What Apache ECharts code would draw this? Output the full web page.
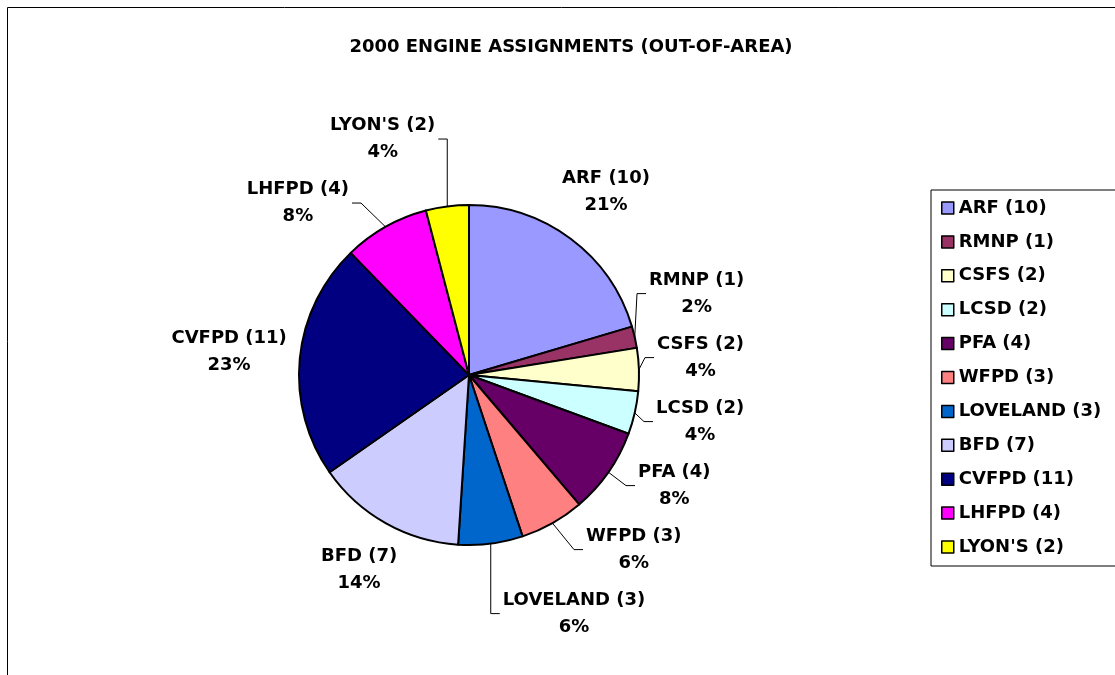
<!DOCTYPE html>
<html>
<head>
<meta charset="utf-8">
<title>2000 Engine Assignments</title>
<script src="https://cdn.jsdelivr.net/npm/echarts@6/dist/echarts.min.js"></script>
<style>
  html, body { margin: 0; padding: 0; background: #fff; }
  #chart { width: 1115px; height: 675px; }
</style>
</head>
<body>
<div id="chart"></div>
<script>
  // agencies (legend names) and engine counts
  var agencies = ['ARF (10)', 'RMNP (1)', 'CSFS (2)', 'LCSD (2)', 'PFA (4)', 'WFPD (3)',
    'LOVELAND (3)', 'BFD (7)', 'CVFPD (11)', 'LHFPD (4)', "LYON'S (2)"]
  var engines = [10, 1, 2, 2, 4, 3, 3, 7, 11, 4, 2]
  // percent text as printed on the original chart
  var pctLabels = ['21%', '2%', '4%', '4%', '8%', '6%', '6%', '14%', '23%', '8%', '4%']
  var sliceColors = ['#9999FF', '#993366', '#FFFFCC', '#CCFFFF', '#660066', '#FF8080',
    '#0066CC', '#CCCCFF', '#000080', '#FF00FF', '#FFFF00']

  var font = 'DejaVu Sans'
  var fontSize = 18
  var C = [469, 375]  // pie centre
  var R = 170         // pie radius
  var GAP_NEAR = 12   // clearance for labels left on their own slice
  var GAP = 18        // clearance for labels moved aside (with leader line)
  var LINE_H = 27
  var MIN_SEP = 2 * LINE_H + 10

  // --- excel-like "best fit" label placement, worked out from the values ---
  var total = engines.reduce(function (a, b) { return a + b }, 0)
  var ctx = document.createElement('canvas').getContext('2d')
  ctx.font = 'bold ' + fontSize + 'px "' + font + '"'

  function boxDist (x, y, w, h) {
    var nx = Math.max(x - w / 2, Math.min(C[0], x + w / 2))
    var ny = Math.max(y - h / 2, Math.min(C[1], y + h / 2))
    return Math.hypot(nx - C[0], ny - C[1])
  }

  var boxes = []
  var cum = 0
  engines.forEach(function (v, i) {
    var theta = (cum + v / 2) / total * 2 * Math.PI
    cum += v
    var dir = [Math.sin(theta), -Math.cos(theta)]
    var w = Math.max(ctx.measureText(agencies[i]).width, ctx.measureText(pctLabels[i]).width)
    var h = 2 * LINE_H
    var d = R
    var x, y
    do {
      d += 1
      x = C[0] + dir[0] * d
      y = C[1] + dir[1] * d
    } while (boxDist(x, y, w, h) < R + GAP_NEAR)
    boxes.push({ dir: dir, w: w, h: h, x: x, y: y, y0: y, side: dir[0] >= 0 ? 1 : -1,
      rim: [C[0] + dir[0] * R, C[1] + dir[1] * R] })
  })

  function overlapX (a, b) {
    return Math.abs(a.x - b.x) < (a.w + b.w) / 2 + 4
  }

  // spread labels vertically on each side: push down, push up, take the average
  ;[1, -1].forEach(function (side) {
    var list = boxes.filter(function (b) { return b.side === side })
      .sort(function (a, b) { return a.y - b.y })
    var n = list.length
    var down = list.map(function (b) { return b.y })
    var up = down.slice()
    var j, k
    for (j = 1; j < n; j++) {
      for (k = 0; k < j; k++) {
        if (overlapX(list[j], list[k]) && down[j] - down[k] < MIN_SEP) down[j] = down[k] + MIN_SEP
      }
    }
    for (j = n - 2; j >= 0; j--) {
      for (k = n - 1; k > j; k--) {
        if (overlapX(list[j], list[k]) && up[k] - up[j] < MIN_SEP) up[j] = up[k] - MIN_SEP
      }
    }
    list.forEach(function (b, idx) { b.y = (down[idx] + up[idx]) / 2 })
  })

  // moved labels sit beside the pie and get a leader line
  boxes.forEach(function (b) {
    b.moved = Math.abs(b.y - b.y0) > 4
    if (b.moved) {
      var x = C[0] + b.side * b.w / 2
      while (boxDist(x, b.y, b.w, b.h) < R + GAP) x += b.side
      var lim = b.rim[0] + b.side * (12 + b.w / 2)
      b.x = b.side > 0 ? Math.max(x, lim) : Math.min(x, lim)
      var edge = b.x - b.side * b.w / 2
      b.line = [b.rim, [edge - b.side * 12, b.y], [edge - b.side * 3, b.y]]
    } else {
      b.line = [b.rim, b.rim, b.rim]
    }
  })

  var pieData = agencies.map(function (name, i) {
    return { name: name, value: engines[i], itemStyle: { color: sliceColors[i] } }
  })

  var chart = echarts.init(document.getElementById('chart'))
  chart.setOption({
    animation: false,
    title: {
      text: '2000 ENGINE ASSIGNMENTS (OUT-OF-AREA)',
      left: 566,
      top: 33,
      textAlign: 'center',
      textStyle: { fontFamily: font, fontWeight: 'bold', fontSize: 18, color: '#000' }
    },
    legend: {
      orient: 'vertical',
      left: 931,
      top: 190,
      padding: [8, 40, 9, 10],
      itemGap: 13.9,
      itemWidth: 12,
      itemHeight: 12,
      icon: 'rect',
      borderColor: '#000',
      borderWidth: 1,
      backgroundColor: '#fff',
      itemStyle: { borderColor: '#000', borderWidth: 1.5 },
      textStyle: { fontFamily: font, fontWeight: 'bold', fontSize: fontSize, color: '#000', lineHeight: 20 },
      data: agencies
    },
    graphic: [{
      // outer chart-area frame
      type: 'rect',
      shape: { x: 7.5, y: 7.5, width: 1300, height: 900 },
      style: { fill: null, stroke: '#000', lineWidth: 1 },
      silent: true,
      z: -1
    }],
    series: [{
      type: 'pie',
      center: C,
      radius: R,
      startAngle: 90,
      clockwise: true,
      avoidLabelOverlap: false,
      itemStyle: { borderColor: '#000', borderWidth: 2 },
      label: {
        show: true,
        position: 'outside',
        formatter: function (p) {
          return '{a|' + p.name + '}\n{a|' + pctLabels[p.dataIndex] + '}'
        },
        rich: {
          a: { fontFamily: font, fontWeight: 'bold', fontSize: fontSize, color: '#000', lineHeight: LINE_H, align: 'center' }
        }
      },
      labelLine: {
        show: true,
        length: 16,
        length2: 10,
        lineStyle: { color: '#000', width: 1 }
      },
      labelLayout: function (params) {
        var b = boxes[params.dataIndex]
        return { x: b.x, y: b.y, align: 'center', verticalAlign: 'middle', labelLinePoints: b.line }
      },
      emphasis: { disabled: true },
      data: pieData
    }]
  })
</script>
</body>
</html>
